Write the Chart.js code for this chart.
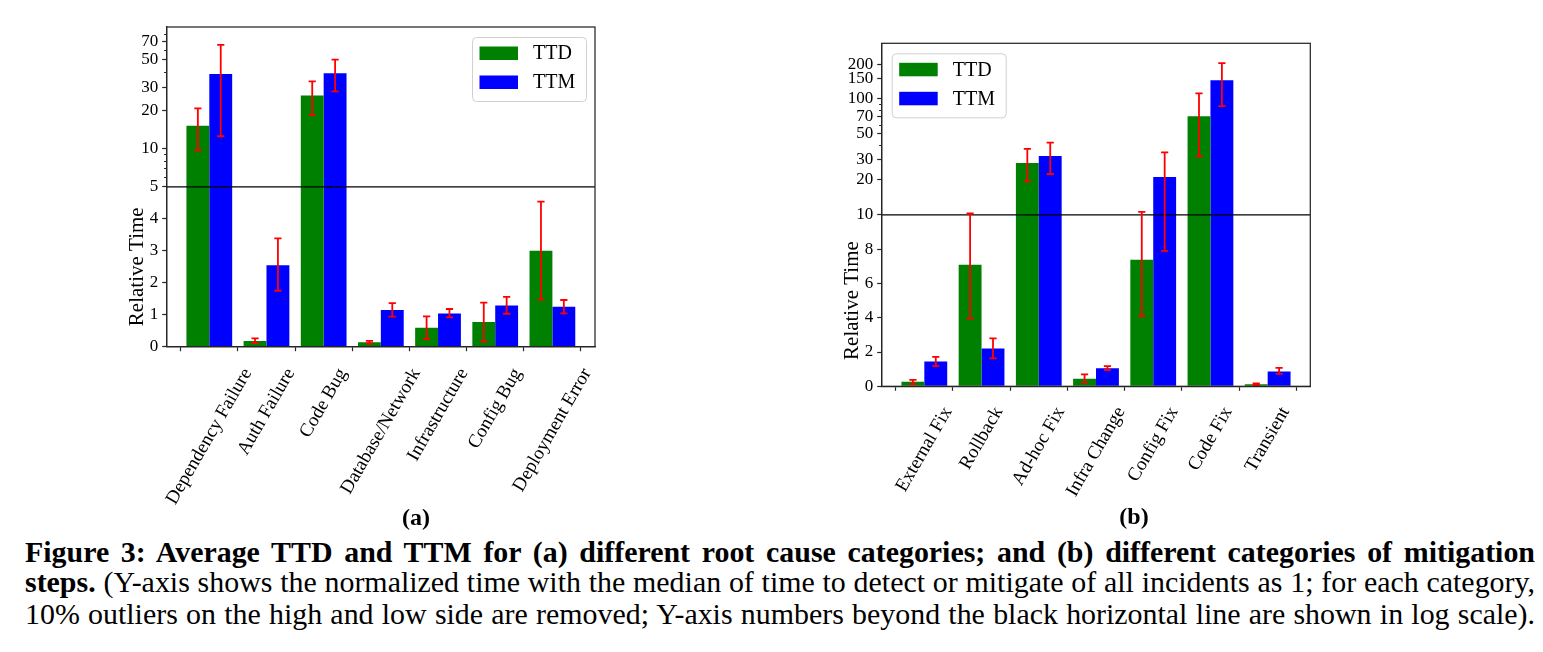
<!DOCTYPE html>
<html>
<head>
<meta charset="utf-8">
<script src="https://cdn.jsdelivr.net/npm/chart.js@4.4.1/dist/chart.umd.min.js"></script>
<style>
html,body{margin:0;padding:0;background:#fff;}
body{width:1543px;height:652px;overflow:hidden;position:relative;font-family:"Liberation Serif","Times New Roman",serif;color:#000;}
canvas{position:absolute;top:0;}
#ca{left:0;}
#cb{left:760px;}
.sub{position:absolute;font-weight:bold;font-size:24px;line-height:1;transform:translateX(-50%);white-space:nowrap;}
.cap{position:absolute;left:25px;line-height:1;white-space:nowrap;}
</style>
</head>
<body>
<canvas id="ca" width="760" height="520"></canvas>
<canvas id="cb" width="783" height="520"></canvas>
<div class="sub" style="left:416px;top:505px;">(a)</div>
<div class="sub" style="left:1134px;top:504px;">(b)</div>
<div class="cap" id="cap1"><b>Figure 3: Average TTD and TTM for (a) different root cause categories; and (b) different categories of mitigation</b></div>
<div class="cap" id="cap2"><b>steps.</b> (Y-axis shows the normalized time with the median of time to detect or mitigate of all incidents as 1; for each category,</div>
<div class="cap" id="cap3">10% outliers on the high and low side are removed; Y-axis numbers beyond the black horizontal line are shown in log scale).</div>
<script>
// ---------------- data ----------------
const rootCauses = ["Dependency Failure","Auth Failure","Code Bug","Database/Network","Infrastructure","Config Bug","Deployment Error"];
const rcTTD     = [15.1, 0.18, 26.1, 0.14, 0.59, 0.77, 3.0];
const rcTTDLow  = [9.7, 0.11, 18.4, 0.10, 0.24, 0.16, 1.47];
const rcTTDHigh = [20.7, 0.26, 33.8, 0.18, 0.95, 1.38, 4.54];
const rcTTM     = [38.6, 2.55, 39.1, 1.15, 1.04, 1.29, 1.25];
const rcTTMLow  = [12.5, 1.75, 28.2, 0.94, 0.92, 1.03, 1.04];
const rcTTMHigh = [65.3, 3.39, 50.0, 1.36, 1.18, 1.56, 1.46];
const rcTicks      = [0, 1, 2, 3, 4, 5, 10, 20, 30, 50, 70];
const rcMinorTicks = [6, 7, 8, 9, 40, 60, 80];
const rcThreshold = 5;
const rcMax = 90.4;

const mitigations = ["External Fix","Rollback","Ad-hoc Fix","Infra Change","Config Fix","Code Fix","Transient"];
const mtTTD     = [0.27, 7.09, 28.0, 0.44, 7.38, 71.0, 0.12];
const mtTTDLow  = [0.13, 3.95, 19.4, 0.23, 4.1, 32.0, 0.06];
const mtTTDHigh = [0.38, 10.26, 37.0, 0.70, 10.6, 111.6, 0.17];
const mtTTM     = [1.45, 2.21, 32.2, 1.05, 21.2, 144.6, 0.87];
const mtTTMLow  = [1.18, 1.63, 22.5, 0.95, 7.9, 86.7, 0.72];
const mtTTMHigh = [1.72, 2.79, 42.0, 1.18, 34.6, 204, 1.08];
const mtTicks      = [0, 2, 4, 6, 8, 10, 20, 30, 50, 70, 100, 150, 200];
const mtMinorTicks = [40, 60, 80, 90];
const mtThreshold = 10;
const mtMax = 302;

const seriesNames = ["TTD", "TTM"];
const seriesColors = ["#008000", "#0000ff"];

// ---------------- split (linear below threshold, log above) scale ----------------
class SplitScale extends Chart.LinearScale {
  static id = 'split';
  static defaults = {};
  determineDataLimits() {
    this.min = this.options.min;
    this.max = this.options.max;
  }
  buildTicks() {
    return Array.from(this.options.tickValues, v => ({ value: v }));
  }
  _dec(v) {
    const t = this.options.threshold, mx = this.max, mn = this.min;
    if (v <= t) return 0.5 * (v - mn) / (t - mn);
    return 0.5 + 0.5 * Math.log(v / t) / Math.log(mx / t);
  }
  getPixelForValue(v) {
    return this.getPixelForDecimal(this._dec(v));
  }
  getValueForPixel(p) {
    const d = this.getDecimalForPixel(p), t = this.options.threshold;
    if (d <= 0.5) return this.min + (d / 0.5) * (t - this.min);
    return t * Math.pow(this.max / t, (d - 0.5) / 0.5);
  }
}
Chart.register(SplitScale);

// ---------------- decoration plugin ----------------
const decor = {
  id: 'decor',
  afterDraw(chart, args, o) {
    const { ctx, chartArea: ca } = chart;
    const x = chart.scales.x, y = chart.scales.y;
    ctx.save();
    // threshold line
    const ty = y.getPixelForValue(o.threshold);
    ctx.strokeStyle = '#000';
    ctx.lineWidth = 1.2;
    ctx.beginPath(); ctx.moveTo(ca.left, ty); ctx.lineTo(ca.right, ty); ctx.stroke();
    // error bars
    ctx.strokeStyle = '#ff0000';
    ctx.lineWidth = 1.8;
    chart.data.datasets.forEach((ds, di) => {
      const meta = chart.getDatasetMeta(di);
      meta.data.forEach((bar, i) => {
        const y1 = y.getPixelForValue(ds.errLow[i]);
        const y2 = y.getPixelForValue(ds.errHigh[i]);
        const bx = bar.x;
        ctx.beginPath();
        ctx.moveTo(bx, y1); ctx.lineTo(bx, y2);
        ctx.moveTo(bx - 3.6, y1); ctx.lineTo(bx + 3.6, y1);
        ctx.moveTo(bx - 3.6, y2); ctx.lineTo(bx + 3.6, y2);
        ctx.stroke();
      });
    });
    // frame
    ctx.strokeStyle = '#262626';
    ctx.lineWidth = 1.25;
    ctx.strokeRect(ca.left, ca.top, ca.right - ca.left, ca.bottom - ca.top);
    // minor ticks
    ctx.lineWidth = 1;
    o.minorTicks.forEach(v => {
      const py = Math.round(y.getPixelForValue(v)) + 0.5;
      ctx.beginPath(); ctx.moveTo(ca.left - 2.6, py); ctx.lineTo(ca.left, py); ctx.stroke();
    });
    // y title centred on the linear (lower) half
    ctx.fillStyle = '#000';
    ctx.font = '21px "Liberation Serif", serif';
    ctx.textAlign = 'center';
    ctx.textBaseline = 'middle';
    const midY = (y.getPixelForValue(o.threshold) + y.getPixelForValue(0)) / 2;
    ctx.save();
    ctx.translate(ca.left - 29.5, midY);
    ctx.rotate(-Math.PI / 2);
    ctx.fillText(o.yTitle, 0, 0);
    ctx.restore();
    // rotated category labels (bbox centred on tick)
    const fs = 19;
    ctx.font = fs + 'px "Liberation Serif", serif';
    const th = Math.PI / 3;
    o.categories.forEach((lab, i) => {
      const px = x.getPixelForValue(i);
      const w = ctx.measureText(lab).width;
      const half = (w * Math.sin(th) + fs * 0.9 * Math.cos(th)) / 2;
      ctx.save();
      ctx.translate(px, ca.bottom + o.labelGap + half);
      ctx.rotate(-th);
      ctx.fillText(lab, 0, 0);
      ctx.restore();
    });
    // legend
    const L = o.legend;
    const bw = 114, bh = 64;
    const bx0 = L.side === 'right' ? ca.right - L.dx - bw : ca.left + L.dx;
    const by0 = ca.top + L.dy;
    ctx.fillStyle = 'rgba(255,255,255,0.85)';
    ctx.strokeStyle = '#d0d0d0';
    ctx.lineWidth = 1;
    ctx.beginPath();
    ctx.roundRect(bx0 + 0.5, by0 + 0.5, bw, bh, 4);
    ctx.fill(); ctx.stroke();
    ctx.font = '20px "Liberation Serif", serif';
    ctx.textAlign = 'left';
    ctx.textBaseline = 'middle';
    chart.data.datasets.forEach((ds, di) => {
      const sy = by0 + 9.5 + di * 29;
      ctx.fillStyle = ds.backgroundColor;
      ctx.fillRect(bx0 + 7.5, sy, 38.5, 13.5);
      ctx.fillStyle = '#000';
      ctx.fillText(ds.label, bx0 + 61, sy + 7.5);
    });
    ctx.restore();
  }
};

function makeChart(id, cats, ttd, ttdLo, ttdHi, ttm, ttmLo, ttmHi, ticks, minor, thr, ymax, geo) {
  const ds = [
    { label: seriesNames[0], data: ttd.map((v, i) => ({ x: i, y: v })), errLow: ttdLo, errHigh: ttdHi,
      backgroundColor: seriesColors[0], borderWidth: 0, categoryPercentage: 0.8, barPercentage: 1.0 },
    { label: seriesNames[1], data: ttm.map((v, i) => ({ x: i, y: v })), errLow: ttmLo, errHigh: ttmHi,
      backgroundColor: seriesColors[1], borderWidth: 0, categoryPercentage: 0.8, barPercentage: 1.0 }
  ];
  const cv = document.getElementById(id);
  return new Chart(cv, {
    type: 'bar',
    data: { datasets: ds },
    plugins: [decor],
    options: {
      responsive: false,
      devicePixelRatio: 1,
      animation: false,
      layout: { padding: { left: 0, top: geo.top, right: cv.width - geo.right, bottom: 0 } },
      plugins: {
        legend: { display: false },
        tooltip: { enabled: false },
        decor: { threshold: thr, minorTicks: minor, categories: cats, yTitle: 'Relative Time',
                 labelGap: geo.labelGap, legend: geo.legend }
      },
      scales: {
        x: {
          type: 'linear', min: -0.745, max: cats.length - 1 + 0.745, offset: false,
          afterBuildTicks: s => { s.ticks = cats.map((_, i) => ({ value: i })); },
          afterFit: s => { s.height = cv.height - geo.bottom; },
          ticks: { display: false },
          grid: { display: true, drawOnChartArea: false, drawTicks: true, tickLength: 4.5, tickColor: '#262626', tickWidth: 1.2 },
          border: { display: true, color: '#262626', width: 1.25 }
        },
        y: {
          type: 'split', min: 0, max: ymax, threshold: thr, tickValues: ticks,
          afterFit: s => { s.width = geo.left; },
          ticks: { autoSkip: false, padding: 4, color: '#000', font: { family: '"Liberation Serif", serif', size: 17 },
                   callback: v => String(v) },
          grid: { display: true, drawOnChartArea: false, drawTicks: true, tickLength: 4.5, tickColor: '#262626', tickWidth: 1.2 },
          border: { display: true, color: '#262626', width: 1.25 }
        }
      }
    }
  });
}

makeChart('ca', rootCauses, rcTTD, rcTTDLow, rcTTDHigh, rcTTM, rcTTMLow, rcTTMHigh,
  rcTicks, rcMinorTicks, rcThreshold, rcMax,
  { left: 166.7, top: 27, right: 595, bottom: 346.7, labelGap: 19,
    legend: { side: 'right', dx: 9, dy: 10 } });

makeChart('cb', mitigations, mtTTD, mtTTDLow, mtTTDHigh, mtTTM, mtTTMLow, mtTTMHigh,
  mtTicks, mtMinorTicks, mtThreshold, mtMax,
  { left: 121.7, top: 43.3, right: 550.3, bottom: 386.3, labelGap: 18,
    legend: { side: 'left', dx: 10, dy: 10 } });

// ---------------- caption fitting ----------------
(function () {
  const ids = ['cap1', 'cap2', 'cap3'];
  const baselines = [562, 592, 624];
  const target = 1510;
  const els = ids.map(i => document.getElementById(i));
  els.forEach(e => { e.style.fontSize = '26px'; });
  const maxW = Math.max(...els.map(e => e.getBoundingClientRect().width));
  const fs = Math.min(30, 26 * (target - 6) / maxW);
  els.forEach((e, k) => {
    e.style.fontSize = fs + 'px';
    e.style.top = (baselines[k] - 0.8375 * fs) + 'px';
    e.style.whiteSpace = 'normal';
    e.style.width = target + 'px';
    e.style.textAlign = 'justify';
    e.style.textAlignLast = 'justify';
  });
})();
</script>
</body>
</html>
